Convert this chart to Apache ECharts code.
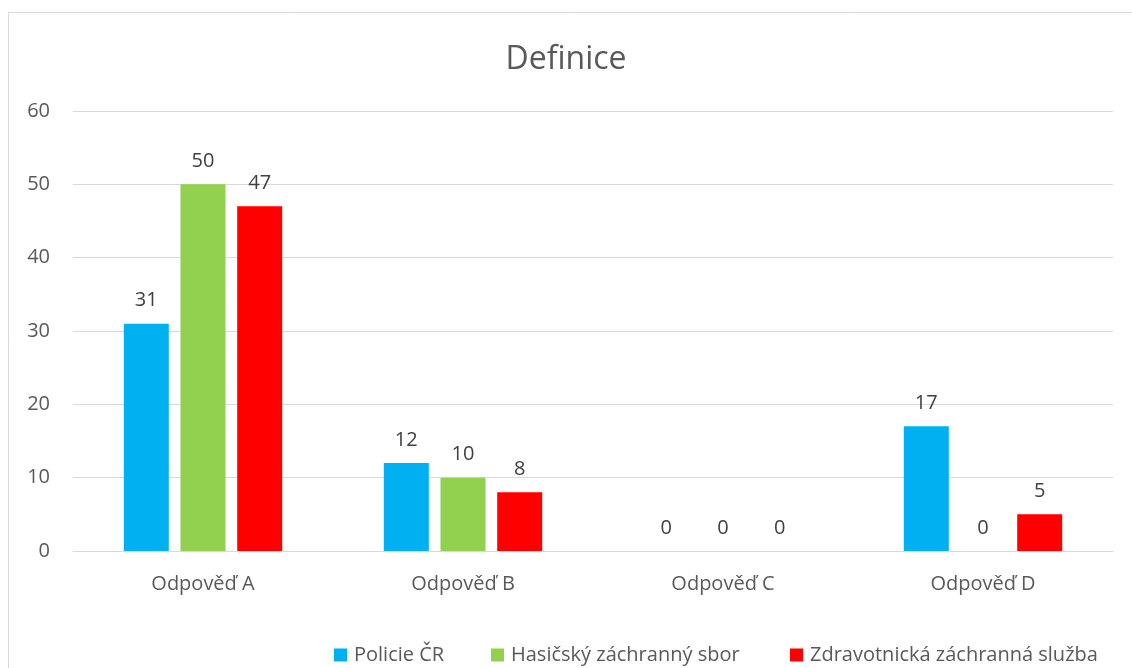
<!DOCTYPE html>
<html>
<head>
<meta charset="utf-8">
<script src="https://cdn.jsdelivr.net/npm/echarts@6/dist/echarts.min.js"></script>
<style>
  html, body { margin: 0; padding: 0; background: #fff; }
  #main { width: 1132px; height: 668px; }
</style>
</head>
<body>
<div id="main"></div>
<script>
  const categories = ['Odpověď A', 'Odpověď B', 'Odpověď C', 'Odpověď D']
  const seriesNames = ['Policie ČR', 'Hasičský záchranný sbor', 'Zdravotnická záchranná služba']
  const policie = [31, 12, 0, 17]
  const hasici = [50, 10, 0, 0]
  const zachranka = [47, 8, 0, 5]
  const colors = ['#00b0f0', '#92d050', '#ff0000']

  const font = '"Open Sans", "Noto Sans", sans-serif'

  function bar(name, data, color) {
    return {
      name: name,
      type: 'bar',
      data: data,
      barWidth: 45,
      barGap: '26%',
      itemStyle: { color: color },
      label: {
        show: true,
        position: 'top',
        distance: 13,
        color: '#404040',
        fontSize: 20,
        fontFamily: font
      }
    }
  }

  // one legend per entry, so each can sit where the original puts it
  const legendLeft = [329, 486, 785]
  const legends = seriesNames.map((n, i) => ({
    data: [n],
    left: legendLeft[i],
    top: 640,
    itemWidth: 13,
    itemHeight: 13,
    itemGap: 0,
    icon: 'rect',
    textStyle: { fontSize: 20, color: '#595959', fontFamily: font, padding: [0, 0, 0, 2] }
  }))

  const chart = echarts.init(document.getElementById('main'))
  chart.setOption({
    animation: false,
    title: {
      text: 'Definice',
      left: 'center',
      top: 39,
      textStyle: { fontSize: 32, fontWeight: 'normal', color: '#595959', fontFamily: font }
    },
    graphic: [{
      type: 'rect',
      shape: { x: 8.5, y: 12.5, width: 1140, height: 680 },
      style: { fill: 'none', stroke: '#d9d9d9', lineWidth: 1 },
      silent: true
    }],
    legend: legends,
    grid: { left: 73, right: 19, top: 111, bottom: 117 },
    xAxis: {
      type: 'category',
      data: categories,
      axisLine: { lineStyle: { color: '#d9d9d9' } },
      axisTick: { show: false },
      axisLabel: { fontSize: 20, color: '#595959', margin: 23, fontFamily: font }
    },
    yAxis: {
      type: 'value',
      min: 0,
      max: 60,
      interval: 10,
      axisLine: { show: false },
      axisTick: { show: false },
      splitLine: { lineStyle: { color: '#d9d9d9' } },
      axisLabel: { fontSize: 20, color: '#595959', margin: 23, fontFamily: font }
    },
    series: [
      bar(seriesNames[0], policie, colors[0]),
      bar(seriesNames[1], hasici, colors[1]),
      bar(seriesNames[2], zachranka, colors[2])
    ]
  })
</script>
</body>
</html>
